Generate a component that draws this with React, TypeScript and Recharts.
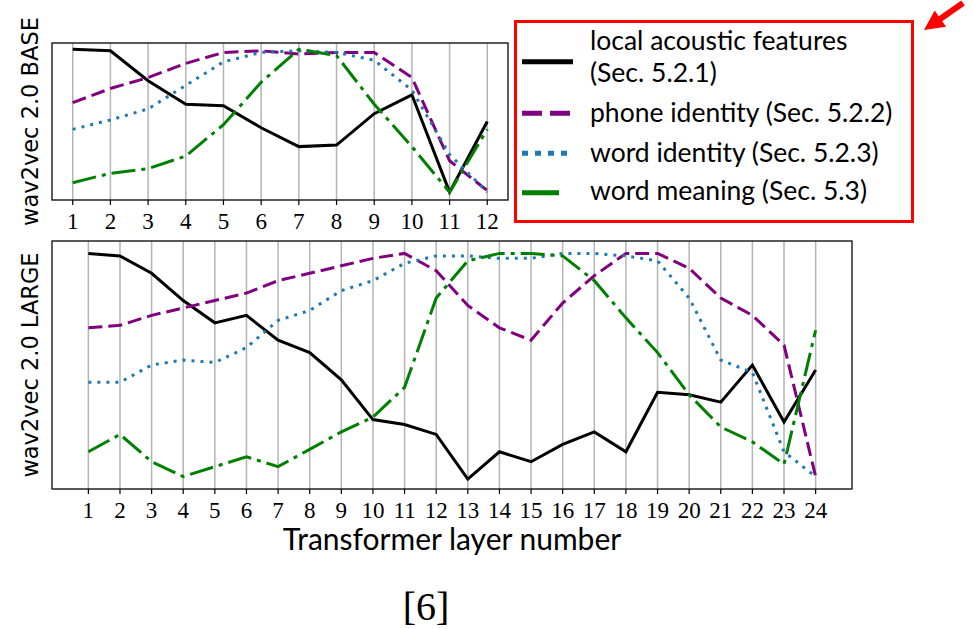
import { LineChart, Line, XAxis, YAxis, CartesianGrid, ReferenceArea } from 'recharts'

// probing scores, normalised to the panel height (0 = bottom, 1 = top)
const layersBase = [1, 2, 3, 4, 5, 6, 7, 8, 9, 10, 11, 12]
const localBase = [0.96, 0.95, 0.76, 0.61, 0.6, 0.46, 0.34, 0.35, 0.55, 0.67, 0.05, 0.5]
const phoneBase = [0.62, 0.71, 0.78, 0.87, 0.94, 0.95, 0.93, 0.94, 0.94, 0.78, 0.25, 0.06]
const wordBase = [0.45, 0.51, 0.58, 0.73, 0.88, 0.94, 0.95, 0.94, 0.89, 0.7, 0.29, 0.05]
const meaningBase = [0.11, 0.17, 0.2, 0.28, 0.48, 0.75, 0.96, 0.92, 0.61, 0.34, 0.05, 0.45]

const layersLarge = [1, 2, 3, 4, 5, 6, 7, 8, 9, 10, 11, 12, 13, 14, 15, 16, 17, 18, 19, 20, 21, 22, 23, 24]
const localLarge = [0.95, 0.94, 0.87, 0.76, 0.67, 0.7, 0.6, 0.55, 0.44, 0.28, 0.26, 0.22, 0.04, 0.15, 0.11, 0.18, 0.23, 0.15, 0.39, 0.38, 0.35, 0.5, 0.27, 0.48]
const phoneLarge = [0.65, 0.66, 0.7, 0.73, 0.76, 0.79, 0.84, 0.87, 0.9, 0.93, 0.95, 0.88, 0.74, 0.65, 0.6, 0.75, 0.86, 0.95, 0.95, 0.89, 0.77, 0.7, 0.58, 0.05]
const wordLarge = [0.43, 0.43, 0.5, 0.52, 0.51, 0.57, 0.68, 0.72, 0.8, 0.84, 0.91, 0.94, 0.94, 0.93, 0.93, 0.95, 0.95, 0.94, 0.92, 0.77, 0.52, 0.47, 0.15, 0.05]
const meaningLarge = [0.15, 0.22, 0.11, 0.05, 0.09, 0.13, 0.09, 0.16, 0.23, 0.29, 0.41, 0.77, 0.92, 0.95, 0.95, 0.94, 0.84, 0.69, 0.55, 0.38, 0.25, 0.19, 0.1, 0.64]

const series = [
  { key: 'local', label: ['local acoustic features', '(Sec. 5.2.1)'], color: '#000000', dash: undefined, legendDash: undefined },
  { key: 'phone', label: ['phone identity (Sec. 5.2.2)'], color: '#800080', dash: '14 6', legendDash: '20 8' },
  { key: 'word', label: ['word identity (Sec. 5.2.3)'], color: '#1f77b4', dash: '3 6', legendDash: '6 7' },
  { key: 'meaning', label: ['word meaning (Sec. 5.3)'], color: '#008000', dash: '24 6 4 6', legendDash: '37 20' },
]

const rows = (layers: number[], local: number[], phone: number[], word: number[], meaning: number[]) =>
  layers.map((layer, i) => ({ layer, local: local[i], phone: phone[i], word: word[i], meaning: meaning[i] }))

const baseData = rows(layersBase, localBase, phoneBase, wordBase, meaningBase)
const largeData = rows(layersLarge, localLarge, phoneLarge, wordLarge, meaningLarge)

const serif = '"Liberation Serif", serif'
const sans = 'Lato, "DejaVu Sans", sans-serif'

type PanelProps = {
  data: typeof baseData
  layers: number[]
  width: number
  height: number
  margin: { top: number; right: number; left: number; bottom: number }
  xHeight: number
  ylabel: string
  xlabel?: string
}

function Panel({ data, layers, width, height, margin, xHeight, ylabel, xlabel }: PanelProps) {
  const pad = (layers.length - 1) * 0.05
  const lo = layers[0] - pad
  const hi = layers[layers.length - 1] + pad
  return (
    <LineChart width={width} height={height} data={data} margin={margin}>
      <CartesianGrid horizontal={false} stroke="#b4b4b4" strokeWidth={1.5} />
      <XAxis
        dataKey="layer"
        type="number"
        domain={[lo, hi]}
        ticks={layers}
        interval={0}
        allowDataOverflow
        height={xHeight}
        axisLine={false}
        tickLine={{ stroke: '#000', strokeWidth: 1.2 }}
        tickSize={5}
        tickMargin={8}
        tick={{ fontSize: 23, fill: '#000', fontFamily: serif }}
        label={xlabel ? { value: xlabel, position: 'insideBottom', offset: 8, style: { fontSize: 30, fill: '#000', fontFamily: sans } } : undefined}
      />
      <YAxis
        type="number"
        domain={[0, 1]}
        width={44}
        tick={false}
        tickLine={false}
        axisLine={false}
        label={{ value: ylabel, angle: -90, position: 'center', style: { fontSize: 22.5, fill: '#000', fontFamily: '"DejaVu Sans", sans-serif' } }}
      />
      {series.map((s) => (
        <Line
          key={s.key}
          dataKey={s.key}
          type="linear"
          stroke={s.color}
          strokeWidth={3}
          strokeDasharray={s.dash}
          dot={false}
          activeDot={false}
          isAnimationActive={false}
        />
      ))}
      <ReferenceArea x1={lo} x2={hi} y1={0} y2={1} fill="none" stroke="#222" strokeWidth={1.3} ifOverflow="visible" />
    </LineChart>
  )
}

function Overlay() {
  const rowsY = [
    { line: 41.7, text: [30, 61.7] },
    { line: 93.3, text: [101.7] },
    { line: 133.3, text: [141.7] },
    { line: 172.7, text: [180] },
  ]
  return (
    <svg width={974} height={629} style={{ position: 'absolute', left: 0, top: 0, pointerEvents: 'none' }}>
      <g transform="translate(514,20)">
        <rect x={1.5} y={1.5} width={397} height={200} fill="#fff" stroke="#ff0000" strokeWidth={3} />
        {series.map((s, i) => (
          <g key={s.key}>
            <line x1={8} x2={59} y1={rowsY[i].line} y2={rowsY[i].line} stroke={s.color} strokeWidth={5} strokeDasharray={s.legendDash} />
            {s.label.map((t, j) => (
              <text key={j} x={76} y={rowsY[i].text[j]} fontSize={26.5} fontFamily={sans} fill="#000">
                {t}
              </text>
            ))}
          </g>
        ))}
      </g>
      <line x1={963} y1={3} x2={938} y2={20.5} stroke="#ff0000" strokeWidth={6} />
      <polygon points="924,30 934.7,10.4 946.1,26.8" fill="#ff0000" />
      <text x={426} y={620} textAnchor="middle" fontSize={40} fontFamily={serif} fill="#000">
        [6]
      </text>
    </svg>
  )
}

export default function App() {
  return (
    <div style={{ position: 'absolute', left: 0, top: 0, width: 974, height: 629, background: '#fff', overflow: 'hidden' }}>
      <div style={{ position: 'absolute', left: 0, top: 0 }}>
        <Panel
          data={baseData}
          layers={layersBase}
          width={520}
          height={240}
          margin={{ top: 43, right: 12, left: 8, bottom: 10 }}
          xHeight={30}
          ylabel="wav2vec 2.0 BASE"
        />
      </div>
      <div style={{ position: 'absolute', left: 0, top: 230 }}>
        <Panel
          data={largeData}
          layers={layersLarge}
          width={974}
          height={340}
          margin={{ top: 11, right: 122, left: 8, bottom: 12 }}
          xHeight={69}
          ylabel="wav2vec 2.0 LARGE"
          xlabel="Transformer layer number"
        />
      </div>
      <Overlay />
    </div>
  )
}
